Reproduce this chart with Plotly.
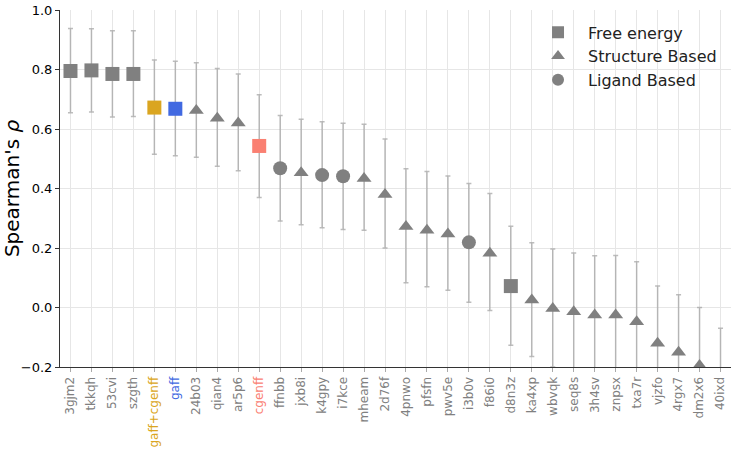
import plotly.graph_objects as go

# Targets ordered by Spearman correlation
categories = ["3gjm2", "tkkqh", "53cvi", "szgth", "gaff+cgenff", "gaff", "24b03", "qian4",
              "ar5p6", "cgenff", "ffnbb", "jxb8i", "k4gpy", "i7kce", "mheam", "2d76f",
              "4pnwo", "pfsfn", "pwv5e", "i3b0v", "f86i0", "d8n3z", "ka4xp", "wbvqk",
              "seq8s", "3h4sv", "znpsx", "txa7r", "vjzfo", "4rgx7", "dm2x6", "40ixd"]
rho = [0.795, 0.797, 0.785, 0.785, 0.672, 0.668, 0.662, 0.636,
       0.620, 0.543, 0.468, 0.453, 0.445, 0.441, 0.434, 0.380,
       0.272, 0.260, 0.247, 0.219, 0.182, 0.072, 0.025, -0.003,
       -0.014, -0.025, -0.025, -0.048, -0.120, -0.150, -0.195, -0.270]
ci_low = [0.655, 0.657, 0.640, 0.642, 0.515, 0.510, 0.505, 0.475,
          0.460, 0.370, 0.291, 0.278, 0.268, 0.262, 0.260, 0.200,
          0.083, 0.070, 0.058, 0.018, -0.010, -0.127, -0.165, -0.200,
          -0.220, -0.230, -0.230, -0.250, -0.310, -0.340, -0.380, -0.450]
ci_high = [0.938, 0.937, 0.930, 0.930, 0.832, 0.828, 0.823, 0.803,
           0.785, 0.715, 0.645, 0.633, 0.624, 0.619, 0.616, 0.566,
           0.466, 0.457, 0.442, 0.417, 0.383, 0.273, 0.218, 0.197,
           0.183, 0.174, 0.175, 0.154, 0.072, 0.043, 0.000, -0.070]
method = ["Free energy", "Free energy", "Free energy", "Free energy", "Free energy", "Free energy",
          "Structure Based", "Structure Based", "Structure Based", "Free energy",
          "Ligand Based", "Structure Based", "Ligand Based", "Ligand Based", "Structure Based",
          "Structure Based", "Structure Based", "Structure Based", "Structure Based",
          "Ligand Based", "Structure Based", "Free energy", "Structure Based", "Structure Based",
          "Structure Based", "Structure Based", "Structure Based", "Structure Based",
          "Structure Based", "Structure Based", "Structure Based", "Structure Based"]
highlight = {"gaff+cgenff": "#DAA520", "gaff": "#4169E1", "cgenff": "#FA8072"}

GRAY = "#808080"
symbols = {"Free energy": "square", "Structure Based": "triangle-up", "Ligand Based": "circle"}
sizes = {"square": 14, "triangle-up": 13, "circle": 14}

fig = go.Figure()

for m, sym in symbols.items():
    idx = [i for i, k in enumerate(method) if k == m]
    xs = [categories[i] for i in idx]
    ys = [rho[i] for i in idx]
    plus = [ci_high[i] - rho[i] for i in idx]
    minus = [rho[i] - ci_low[i] for i in idx]
    cols = [highlight.get(categories[i], GRAY) for i in idx]
    fig.add_trace(go.Scatter(
        x=xs, y=ys, mode="markers", showlegend=False,
        marker=dict(symbol=sym, size=sizes[sym], color=cols, line=dict(width=0)),
        error_y=dict(type="data", array=plus, arrayminus=minus, symmetric=False,
                     color="rgba(160,160,160,0.7)", thickness=1.5, width=2.5),
    ))

# Legend entries
for m, sym in symbols.items():
    fig.add_trace(go.Scatter(
        x=[None], y=[None], mode="markers", name=m,
        marker=dict(symbol=sym, size=14, color=GRAY),
    ))

ticktext = [f'<span style="color:{highlight.get(c, GRAY)}">{c}</span>' for c in categories]

fig.update_layout(
    width=731, height=450,
    margin=dict(l=60, r=0, t=10, b=83),
    plot_bgcolor="white", paper_bgcolor="white",
    font=dict(family="DejaVu Sans", size=13, color="black"),
    legend=dict(x=0.6975, y=0.985, xanchor="left", yanchor="top",
                font=dict(size=16, color="#222"), bgcolor="rgba(255,255,255,0)",
                itemsizing="constant", itemwidth=50, tracegroupgap=0),
    yaxis=dict(
        range=[-0.2, 1.0], tickvals=[-0.2, 0.0, 0.2, 0.4, 0.6, 0.8, 1.0],
        tickformat=".1f", showgrid=True, gridcolor="#e6e6e6", gridwidth=1,
        showline=True, linecolor="#333", linewidth=1, ticks="outside",
        ticklen=4, tickcolor="#333", zeroline=False, automargin=False,
        title=dict(text="Spearman's <i>ρ</i>", font=dict(size=20), standoff=10),
        tickfont=dict(size=13, color="black"),
    ),
    xaxis=dict(
        type="category", categoryorder="array", categoryarray=categories,
        range=[-0.5, len(categories) - 0.5],
        tickvals=categories, ticktext=ticktext, tickangle=-90,
        showgrid=True, gridcolor="#e6e6e6", gridwidth=1,
        showline=True, linecolor="#333", linewidth=1, ticks="outside",
        ticklen=4, tickcolor="#aaa", zeroline=False, automargin=False,
        tickfont=dict(size=12, color=GRAY),
    ),
)

fig.write_html("out.html")
